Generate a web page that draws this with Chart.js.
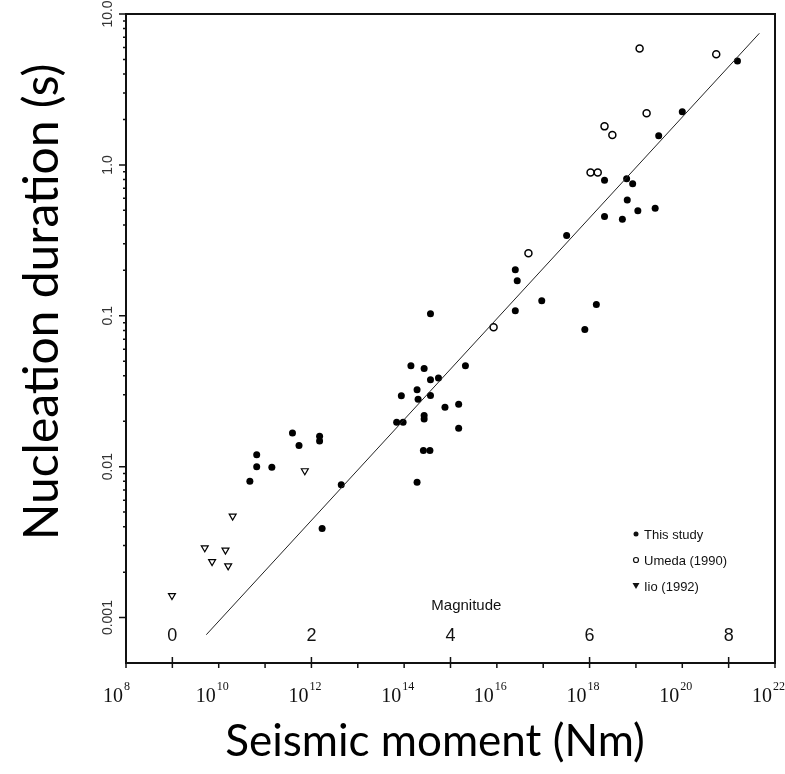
<!DOCTYPE html>
<html>
<head>
<meta charset="utf-8">
<script src="https://cdn.jsdelivr.net/npm/chart.js@4/dist/chart.umd.min.js"></script>
<style>
    html, body { margin: 0; padding: 0; background: #fff; }
    #contenedor { width: 785px; height: 774px; position: relative; }
</style>
</head>
<body>
<div id="contenedor"><canvas id="nucleacionChart"></canvas></div>
<script>
// Datos (momento sismico en Nm, duracion en s)
const estudioMomento = [4.7e10, 6.6e10, 6.6e10, 1.4e11, 3.9e11, 5.4e11, 1.5e12, 1.5e12, 4.4e12, 1.7e12,
    3.7e14, 1.4e14, 2.7e14, 2.1e15, 3.7e14, 5.5e14, 1.9e14, 8.7e13, 2.0e14, 3.7e14,
    7.6e14, 1.5e15, 2.7e14, 2.7e14, 6.9e13, 9.5e13, 1.5e15, 2.6e14, 3.6e14, 1.9e14,
    2.5e16, 2.75e16, 2.5e16, 9.3e16, 3.2e17, 7.9e17, 1.4e18, 2.1e18, 5.1e18, 6.5e18,
    1.1e19, 2.6e19, 2.1e18, 6.3e18, 8.5e18, 3.1e19, 1.0e20, 1.55e21];
const estudioDuracion = [0.0080, 0.012, 0.0100, 0.0099, 0.0167, 0.0138, 0.0159, 0.0148, 0.0076, 0.0039,
    0.103, 0.0467, 0.0448, 0.0467, 0.0377, 0.0387, 0.0324, 0.0295, 0.028, 0.0296,
    0.0248, 0.0259, 0.0218, 0.0207, 0.0197, 0.0197, 0.018, 0.0128, 0.0128, 0.0079,
    0.202, 0.171, 0.108, 0.126, 0.34, 0.081, 0.119, 0.455, 0.437, 0.586,
    0.497, 0.516, 0.79, 0.81, 0.75, 1.56, 2.25, 4.89];

const umedaMomento = [8.5e15, 4.8e16, 1.05e18, 1.5e18, 2.1e18, 3.1e18, 1.7e19, 1.2e19, 5.4e20];
const umedaDuracion = [0.084, 0.26, 0.89, 0.89, 1.80, 1.58, 2.2, 5.9, 5.41];

const iioMomento = [9.8e8, 5.0e9, 7.2e9, 1.4e10, 1.6e10, 2.0e10, 7.2e11];
const iioDuracion = [0.0014, 0.0029, 0.00235, 0.0028, 0.0022, 0.0047, 0.0094];

// Recta de ajuste (extremos)
const ajusteMomento = [5.4e9, 4.6e21];
const ajusteDuracion = [0.00077, 7.45];

// Etiquetas de los ejes
const exponentesX = [8, 10, 12, 14, 16, 18, 20, 22];
const decadasX = [8, 9, 10, 11, 12, 13, 14, 15, 16, 17, 18, 19, 20, 21, 22];
const valoresY = [0.001, 0.01, 0.1, 1, 10];
const etiquetasY = ['0.001', '0.01', '0.1', '1.0', '10.0'];
const magnitudes = [0, 2, 4, 6, 8];
const momentoMagnitud = [1e9, 1e12, 1e15, 1e18, 1e21];

const leyenda = ['This study', 'Umeda (1990)', 'Iio (1992)'];

function aPuntos(xs, ys) {
    return xs.map((v, i) => ({ x: v, y: ys[i] }));
}

// Plugin para dibujar marco, marcas, etiquetas y leyenda
const decoracionPlugin = {
    id: 'decoracion',
    afterDraw(chart) {
        const ctx = chart.ctx;
        const { left, right, top, bottom } = chart.chartArea;
        const ejeX = chart.scales.x;
        const ejeY = chart.scales.y;

        ctx.save();
        ctx.strokeStyle = '#111';
        ctx.fillStyle = '#111';

        // Marco
        ctx.lineWidth = 2;
        ctx.strokeRect(left, top, right - left, bottom - top);

        // Marcas del eje x (cada decada)
        ctx.lineWidth = 1.5;
        ctx.beginPath();
        decadasX.forEach(e => {
            const px = ejeX.getPixelForValue(Math.pow(10, e));
            ctx.moveTo(px, bottom);
            ctx.lineTo(px, bottom + 5);
        });
        // Marcas de magnitud (cruzan el eje)
        momentoMagnitud.forEach(m => {
            const px = ejeX.getPixelForValue(m);
            ctx.moveTo(px, bottom - 6);
            ctx.lineTo(px, bottom + 5);
        });
        ctx.stroke();

        // Marcas del eje y
        ctx.beginPath();
        valoresY.forEach(v => {
            const py = ejeY.getPixelForValue(v);
            ctx.moveTo(left, py);
            ctx.lineTo(left - 7, py);
            for (let k = 2; k <= 9 && v < 10; k++) {
                const pm = ejeY.getPixelForValue(v * k);
                ctx.moveTo(left, pm);
                ctx.lineTo(left - 3, pm);
            }
        });
        ctx.stroke();

        // Etiquetas x: 10 con exponente
        exponentesX.forEach(e => {
            const px = ejeX.getPixelForValue(Math.pow(10, e));
            ctx.font = '20px "Liberation Serif"';
            ctx.textAlign = 'right';
            ctx.textBaseline = 'alphabetic';
            ctx.fillText('10', px - 3, bottom + 39);
            ctx.font = '12px "Liberation Serif"';
            ctx.textAlign = 'left';
            ctx.fillText(String(e), px - 2, bottom + 27);
        });

        // Etiquetas y giradas
        ctx.fillStyle = '#333';
        ctx.font = '14px "Liberation Sans"';
        ctx.textAlign = 'center';
        ctx.textBaseline = 'middle';
        valoresY.forEach((v, i) => {
            const py = ejeY.getPixelForValue(v);
            ctx.save();
            ctx.translate(left - 18, py);
            ctx.rotate(-Math.PI / 2);
            ctx.fillText(etiquetasY[i], 0, 0);
            ctx.restore();
        });

        // Magnitudes
        ctx.fillStyle = '#111';
        ctx.font = '18px "Liberation Sans"';
        magnitudes.forEach((m, i) => {
            const px = ejeX.getPixelForValue(momentoMagnitud[i]);
            ctx.fillText(String(m), px, bottom - 27);
        });
        ctx.font = '15px "Liberation Sans"';
        ctx.fillText('Magnitude', ejeX.getPixelForValue(2.2e15), bottom - 57);

        // Leyenda
        ctx.font = '13px "Liberation Sans"';
        ctx.textAlign = 'left';
        leyenda.forEach((texto, i) => {
            const ly = 535 + i * 26;
            const lx = 636;
            ctx.beginPath();
            if (i === 0) {
                ctx.arc(lx, ly - 1, 2.5, 0, Math.PI * 2);
                ctx.fill();
            } else if (i === 1) {
                ctx.lineWidth = 1.2;
                ctx.arc(lx, ly - 1, 2.5, 0, Math.PI * 2);
                ctx.stroke();
            } else {
                ctx.moveTo(lx - 3.5, ly - 4);
                ctx.lineTo(lx + 3.5, ly - 4);
                ctx.lineTo(lx, ly + 2);
                ctx.closePath();
                ctx.fill();
            }
            ctx.fillText(texto, lx + 8, ly);
        });

        // Titulos de los ejes
        ctx.fillStyle = '#000';
        ctx.font = '44px Lato';
        ctx.textAlign = 'center';
        ctx.fillText('Seismic moment (Nm)', 435, 742);
        ctx.save();
        ctx.font = '48px Lato';
        ctx.translate(43, 302);
        ctx.rotate(-Math.PI / 2);
        ctx.fillText('Nucleation duration (s)', 0, 0);
        ctx.restore();

        ctx.restore();
    }
};

const ctx = document.getElementById('nucleacionChart').getContext('2d');
const nucleacionChart = new Chart(ctx, {
    type: 'scatter',
    data: {
        datasets: [
            {
                label: 'Ajuste',
                type: 'line',
                data: aPuntos(ajusteMomento, ajusteDuracion),
                borderColor: '#222',
                borderWidth: 1,
                pointRadius: 0,
                fill: false
            },
            {
                label: leyenda[0],
                data: aPuntos(estudioMomento, estudioDuracion),
                pointStyle: 'circle',
                pointRadius: 3.5,
                backgroundColor: '#000',
                borderColor: '#000',
                borderWidth: 0
            },
            {
                label: leyenda[1],
                data: aPuntos(umedaMomento, umedaDuracion),
                pointStyle: 'circle',
                pointRadius: 3.5,
                backgroundColor: '#fff',
                borderColor: '#000',
                borderWidth: 1.5
            },
            {
                label: leyenda[2],
                data: aPuntos(iioMomento, iioDuracion),
                pointStyle: 'triangle',
                rotation: 180,
                pointRadius: 4,
                backgroundColor: '#fff',
                borderColor: '#000',
                borderWidth: 1.2
            }
        ]
    },
    options: {
        responsive: true,
        maintainAspectRatio: false,
        animation: false,
        layout: {
            padding: { left: 126, top: 14, right: 10, bottom: 111 }
        },
        plugins: {
            legend: { display: false },
            tooltip: { enabled: false }
        },
        scales: {
            x: {
                type: 'logarithmic',
                min: 1e8,
                max: 1e22,
                ticks: { display: false },
                grid: { display: false, drawTicks: false },
                border: { display: false }
            },
            y: {
                type: 'logarithmic',
                min: 0.0005,
                max: 10,
                ticks: { display: false },
                grid: { display: false, drawTicks: false },
                border: { display: false }
            }
        }
    },
    plugins: [decoracionPlugin]
});
</script>
</body>
</html>
